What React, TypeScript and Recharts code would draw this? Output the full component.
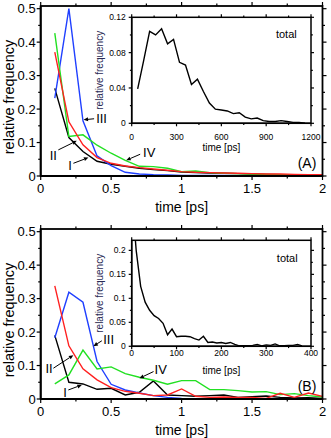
import React from 'react'
import { LineChart, Line, XAxis, YAxis, ReferenceLine, ReferenceDot } from 'recharts'

const FONT = '"Liberation Sans", Arial, Helvetica, sans-serif'

// main panels, bins of 0.1 ps
const time = [0.1, 0.2, 0.3, 0.4, 0.5, 0.6, 0.7, 0.8, 0.9, 1.0, 1.1, 1.2, 1.3, 1.4, 1.5, 1.6, 1.7, 1.8, 1.9, 2.0]

// panel (A)
const aI = [0.262, 0.115, 0.073, 0.044, 0.035, 0.029, 0.023, 0.019, 0.016, 0.012, 0.010, 0.009, 0.008, 0.007, 0.006, 0.005, 0.004, 0.004, 0.003, 0.003]
const aII = [0.370, 0.162, 0.093, 0.055, 0.038, 0.030, 0.025, 0.021, 0.017, 0.013, 0.011, 0.010, 0.009, 0.008, 0.007, 0.006, 0.006, 0.005, 0.004, 0.004]
const aIII = [0.233, 0.500, 0.165, 0.060, 0.031, 0.011, 0.006, 0.004, 0.003, 0.002, 0.002, 0.002, 0.002, 0.001, 0.001, 0.001, 0.001, 0.001, 0.001, 0.001]
const aIV = [0.427, 0.118, 0.123, 0.092, 0.068, 0.047, 0.029, 0.028, 0.023, 0.013, 0.015, 0.010, 0.008, 0.007, 0.006, 0.005, 0.004, 0.004, 0.003, 0.002]

// panel (B)
const bI = [0.190, 0.050, 0.045, 0.029, 0.032, 0.012, 0.020, 0.054, 0.012, 0.010, 0.008, 0.010, 0.012, 0.005, 0.007, 0.009, 0.005, 0.003, 0.004, 0.002]
const bII = [0.338, 0.159, 0.090, 0.057, 0.034, 0.023, 0.017, 0.010, 0.012, 0.030, 0.008, 0.005, 0.006, 0.005, 0.005, 0.002, 0.017, 0.005, 0.018, 0.008]
const bIII = [0.183, 0.319, 0.289, 0.112, 0.044, 0.027, 0.018, 0.010, 0.005, 0.002, 0.001, 0.001, 0.001, 0.001, 0.001, 0.001, 0.001, 0.001, 0.001, 0.001]
const bIV = [0.045, 0.072, 0.146, 0.090, 0.096, 0.076, 0.065, 0.056, 0.044, 0.055, 0.055, 0.028, 0.028, 0.025, 0.021, 0.022, 0.013, 0.016, 0.010, 0.006]

// inset (A): total, time in ps
const insetATime = [40, 80, 120, 160, 200, 240, 280, 320, 360, 400, 440, 480, 520, 560, 600, 640, 680, 720, 760, 800, 840, 880, 920, 960, 1000, 1040, 1080, 1120, 1160]
const insetATotal = [0.039, 0.071, 0.104, 0.100, 0.107, 0.090, 0.095, 0.069, 0.066, 0.044, 0.050, 0.036, 0.023, 0.016, 0.015, 0.014, 0.011, 0.012, 0.007, 0.005, 0.006, 0.003, 0.002, 0.002, 0.003, 0.002, 0.001, 0.001, 0.000]

// inset (B): total, time in ps
const insetBTime = [0, 10, 20, 30, 40, 50, 60, 70, 80, 90, 100, 110, 120, 130, 140, 150, 160, 170, 180, 190, 200, 210, 220, 230, 240, 250, 260, 270, 280, 290, 300, 310, 320, 330, 340, 350, 360, 370, 380]
const insetBTotal = [0.320, 0.200, 0.125, 0.092, 0.075, 0.064, 0.058, 0.048, 0.024, 0.036, 0.020, 0.021, 0.021, 0.020, 0.016, 0.013, 0.021, 0.008, 0.009, 0.007, 0.008, 0.006, 0.008, 0.004, 0.001, 0.001, 0.001, 0.002, 0.004, 0.001, 0.003, 0.002, 0.005, 0.001, 0.001, 0.002, 0.002, 0.004, 0.001]

// ticks
const mainTicksX = [0, 0.25, 0.5, 0.75, 1, 1.25, 1.5, 1.75, 2]
const mainLabelsX = [0, 0.5, 1, 1.5, 2]
const mainTicksY = [0, 0.05, 0.1, 0.15, 0.2, 0.25, 0.3, 0.35, 0.4, 0.45, 0.5]
const mainLabelsY = [0, 0.1, 0.2, 0.3, 0.4, 0.5]
const insetATicksX = [0, 150, 300, 450, 600, 750, 900, 1050, 1200]
const insetALabelsX = [0, 300, 600, 900, 1200]
const insetATicksY = [0, 0.02, 0.04, 0.06, 0.08, 0.1, 0.12]
const insetALabelsY = [0, 0.04, 0.08, 0.12]
const insetBTicksX = [0, 50, 100, 150, 200, 250, 300, 350, 400]
const insetBLabelsX = [0, 100, 200, 300, 400]
const insetBTicksY = [0, 0.025, 0.05, 0.075, 0.1, 0.125, 0.15, 0.175, 0.2]
const insetBLabelsY = [0, 0.05, 0.1, 0.15, 0.2]

const seriesStyle = [
  { key: 'I', color: '#000000' },
  { key: 'III', color: '#2040ff' },
  { key: 'IV', color: '#22e022' },
  { key: 'II', color: '#ff2020' },
]

// arrow annotations (data coordinates)
const notesA = [
  { text: 'III', tx: 0.432, ty: 0.171, x1: 0.379, y1: 0.171, x2: 0.304, y2: 0.168 },
  { text: 'II', tx: 0.09, ty: 0.063, x1: 0.125, y1: 0.078, x2: 0.256, y2: 0.105 },
  { text: 'I', tx: 0.208, ty: 0.033, x1: 0.232, y1: 0.038, x2: 0.339, y2: 0.055 },
  { text: 'IV', tx: 0.77, ty: 0.07, x1: 0.706, y1: 0.065, x2: 0.607, y2: 0.047 },
]
const notesB = [
  { text: 'III', tx: 0.482, ty: 0.179, x1: 0.434, y1: 0.174, x2: 0.374, y2: 0.158 },
  { text: 'II', tx: 0.059, ty: 0.093, x1: 0.09, y1: 0.092, x2: 0.232, y2: 0.131 },
  { text: 'I', tx: 0.173, ty: 0.021, x1: 0.196, y1: 0.027, x2: 0.292, y2: 0.042 },
  { text: 'IV', tx: 0.852, ty: 0.09, x1: 0.801, y1: 0.082, x2: 0.701, y2: 0.062 },
]

const has = (list: number[] | null, v: number) => !!list && list.some(m => Math.abs(m - v) < 1e-9)

// bottom / left ticks with their mirrors on top / right; (x, y) is on the axis line
function makeTick(side: string, major: number[], len: number[], fs: number, off: number, pw: number, ph: number) {
  return (props: any) => {
    const { x, y, payload } = props
    const v = payload.value
    const isMajor = has(major, v)
    const l = isMajor ? len[0] : len[1]
    if (side === 'bottom') {
      const yt = y - ph
      return (
        <g>
          <line x1={x} y1={y} x2={x} y2={y + l} stroke="#000" strokeWidth={1.2} />
          <line x1={x} y1={yt} x2={x} y2={yt - l} stroke="#000" strokeWidth={1.2} />
          {isMajor && <text x={x} y={y + off} textAnchor="middle" fontSize={fs} fontFamily={FONT} fill="#000">{String(v)}</text>}
        </g>
      )
    }
    const xr = x + pw
    return (
      <g>
        <line x1={x} y1={y} x2={x - l} y2={y} stroke="#000" strokeWidth={1.2} />
        <line x1={xr} y1={y} x2={xr + l} y2={y} stroke="#000" strokeWidth={1.2} />
        {isMajor && <text x={x - off} y={y} dy="0.36em" textAnchor="end" fontSize={fs} fontFamily={FONT} fill="#000">{String(v)}</text>}
      </g>
    )
  }
}

// top and right side of the box, drawn as a frame rectangle over the plot area
function FrameBox({ W, H, left, top, pw, ph, w }: any) {
  return (
    <svg width={W} height={H} style={{ position: 'absolute', left: 0, top: 0, zIndex: 5, pointerEvents: 'none' }}>
      <rect x={left} y={top} width={pw} height={ph} fill="none" stroke="#000" strokeWidth={w} />
    </svg>
  )
}

const Arrow = (p: any) => {
  const { x1, y1, x2, y2 } = p
  const dx = x2 - x1
  const dy = y2 - y1
  const L = Math.hypot(dx, dy) || 1
  const ux = dx / L
  const uy = dy / L
  const h = 4.5
  const w = 2
  const bx = x2 - ux * h
  const by = y2 - uy * h
  return (
    <g>
      <line x1={x1} y1={y1} x2={bx} y2={by} stroke="#000" strokeWidth={1} />
      <polygon points={`${x2},${y2} ${bx - uy * w},${by + ux * w} ${bx + uy * w},${by - ux * w}`} fill="#000" />
    </g>
  )
}

const textShape = (label: string, fs: number) => (p: any) => (
  <text x={p.cx} y={p.cy} dy="0.36em" textAnchor="middle" fontSize={fs} fontFamily={FONT} fill="#000">{label}</text>
)

const xTitle = (label: string, fs: number, dy: number) => (p: any) => {
  const vb = p.viewBox
  return <text x={vb.x + vb.width / 2} y={vb.y + dy} textAnchor="middle" fontSize={fs} fontFamily={FONT} fill="#000">{label}</text>
}

const yTitle = (label: string, fs: number, cx: number, shift: number, color: string) => (p: any) => {
  const vb = p.viewBox
  const cy = vb.y + vb.height / 2 + shift
  return (
    <text x={cx} y={cy} dy="0.36em" textAnchor="middle" fontSize={fs} fontFamily={FONT} fill={color} transform={`rotate(-90 ${cx} ${cy})`}>
      {label}
    </text>
  )
}

function MainPanel({ top, values, notes, tag }: any) {
  const rows = time.map((t, i) => ({ t, I: values[0][i], II: values[1][i], III: values[2][i], IV: values[3][i] }))
  const frame = { stroke: '#000', strokeWidth: 1.8 }
  const W = 331, H = 219, mt = 6, mr = 8.5, yw = 40.7, xh = 43
  const pw = W - yw - mr
  const ph = H - mt - xh
  const yTop = 0.508
  return (
    <div style={{ position: 'absolute', left: 0, top, width: W, height: H }}>
      <LineChart width={W} height={H} data={rows} margin={{ top: mt, right: mr, bottom: 0, left: 0 }}>
        <XAxis dataKey="t" type="number" domain={[0, 2]} allowDataOverflow ticks={mainTicksX} interval={0}
          tickSize={0} tickMargin={0} tickLine={false} axisLine={frame} height={xh}
          tick={makeTick('bottom', mainLabelsX, [4, 2.5], 13, 17, pw, ph)}
          label={xTitle('time [ps]', 14, 36)} />
        <YAxis type="number" domain={[0, yTop]} allowDataOverflow ticks={mainTicksY} interval={0}
          tickSize={0} tickMargin={0} tickLine={false} axisLine={frame} width={yw}
          tick={makeTick('left', mainLabelsY, [4, 2.5], 13, 5, pw, ph)}
          label={yTitle('relative frequency', 14.5, 8.5, 6, '#000')} />
        {seriesStyle.map(s => (
          <Line key={s.key} dataKey={s.key} stroke={s.color} strokeWidth={1.4} dot={false} isAnimationActive={false} />
        ))}
        {notes.map((n: any) => (
          <ReferenceLine key={'l' + n.text} segment={[{ x: n.x1, y: n.y1 }, { x: n.x2, y: n.y2 }]} shape={Arrow} ifOverflow="visible" />
        ))}
        {notes.map((n: any) => (
          <ReferenceDot key={'t' + n.text} x={n.tx} y={n.ty} r={0} shape={textShape(n.text, 13)} ifOverflow="visible" />
        ))}
        <ReferenceDot x={1.89} y={0.04} r={0} shape={textShape(tag, 14)} ifOverflow="visible" />
      </LineChart>
      <FrameBox W={W} H={H} left={yw} top={mt} pw={pw} ph={ph} w={1.8} />
    </div>
  )
}

function Inset({ top, xs, ys, xDomain, yDomain, ticksX, labelsX, ticksY, labelsY, labelOff, totalAt }: any) {
  const rows = xs.map((t: number, i: number) => ({ t, total: ys[i] }))
  const frame = { stroke: '#000', strokeWidth: 1.5 }
  const W = 240, H = 146, mt = 5.3, mr = 19, yw = 41.7, xh = 34.7
  const pw = W - yw - mr
  const ph = H - mt - xh
  return (
    <div style={{ position: 'absolute', left: 90, top, width: W, height: H }}>
      <LineChart width={W} height={H} data={rows} margin={{ top: mt, right: mr, bottom: 0, left: 0 }}>
        <XAxis dataKey="t" type="number" domain={xDomain} allowDataOverflow ticks={ticksX} interval={0}
          tickSize={0} tickMargin={0} tickLine={false} axisLine={frame} height={xh}
          tick={makeTick('bottom', labelsX, [3, 1.8], 8.5, labelOff, pw, ph)}
          label={xTitle('time [ps]', 10, 28)} />
        <YAxis type="number" domain={yDomain} allowDataOverflow ticks={ticksY} interval={0}
          tickSize={0} tickMargin={0} tickLine={false} axisLine={frame} width={yw}
          tick={makeTick('left', labelsY, [3, 1.8], 8.5, 6, pw, ph)}
          label={yTitle('relative frequency', 10, 9.3, 0, '#2a2a55')} />
        <Line dataKey="total" stroke="#000" strokeWidth={1.4} dot={false} isAnimationActive={false} />
        <ReferenceDot x={totalAt[0]} y={totalAt[1]} r={0} shape={textShape('total', 11)} ifOverflow="visible" />
      </LineChart>
      <FrameBox W={W} H={H} left={yw} top={mt} pw={pw} ph={ph} w={1.5} />
    </div>
  )
}

export default function App() {
  return (
    <div style={{ position: 'absolute', left: 0, top: 0, width: 331, height: 438, background: '#fff' }}>
      <MainPanel top={0} values={[aI, aII, aIII, aIV]} notes={notesA} tag="(A)" />
      <Inset top={12} xs={insetATime} ys={insetATotal} xDomain={[0, 1200]} yDomain={[0, 0.12]}
        ticksX={insetATicksX} labelsX={insetALabelsX} ticksY={insetATicksY} labelsY={insetALabelsY}
        labelOff={17} totalAt={[1035, 0.101]} />
      <MainPanel top={222.5} values={[bI, bII, bIII, bIV]} notes={notesB} tag="(B)" />
      <Inset top={234.5} xs={insetBTime} ys={insetBTotal} xDomain={[0, 400]} yDomain={[0, 0.221]}
        ticksX={insetBTicksX} labelsX={insetBLabelsX} ticksY={insetBTicksY} labelsY={insetBLabelsY}
        labelOff={9.5} totalAt={[347, 0.183]} />
    </div>
  )
}
